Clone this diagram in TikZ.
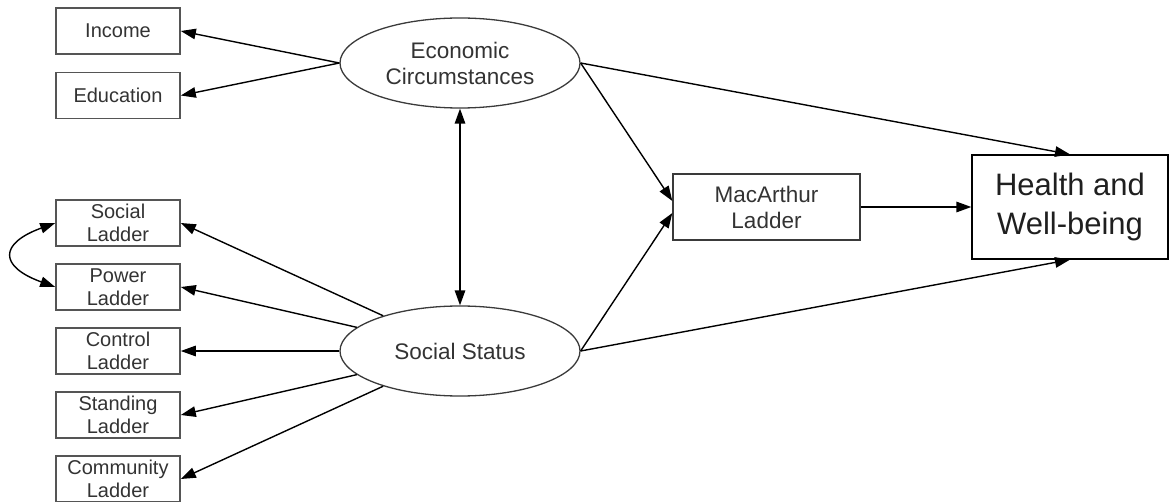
\documentclass[tikz,border=0pt]{standalone}
\usepackage{fontspec}
\setmainfont{Liberation Sans}
\usetikzlibrary{arrows.meta,shapes.geometric}
\definecolor{boxgray}{HTML}{555555}
\definecolor{ellgray}{HTML}{3A3A3A}
\definecolor{textgray}{HTML}{333333}
\begin{document}
\begin{tikzpicture}[x=1pt,y=-1pt,
  indicator/.style={draw=boxgray, line width=1.6pt, minimum width=124pt,
    minimum height=46pt, inner sep=0pt, text=textgray, align=center,
    font=\fontsize{20}{23}\selectfont},
  latent/.style={ellipse, draw=ellgray, line width=1.3pt, minimum width=240pt,
    minimum height=90pt, inner sep=0pt, text=textgray, align=center,
    font=\fontsize{22.5}{26}\selectfont},
  outcome/.style={draw=black, line width=1.3pt, inner sep=0pt, align=center},
  link/.style={line width=1.4pt, -{Triangle[length=15pt,width=10.5pt]}},
  twoway/.style={line width=1.4pt, {Triangle[length=15pt,width=10.5pt]}-{Triangle[length=15pt,width=10.5pt]}}]
\useasboundingbox (0,0) rectangle (1169,502);

% observed indicators
\node[indicator] (inc) at (118,31) {Income};
\node[indicator] (edu) at (118,95.5) {Education};
\node[indicator] (soclad) at (118,223) {Social\\Ladder};
\node[indicator] (powlad) at (118,287) {Power\\Ladder};
\node[indicator] (ctllad) at (118,351) {Control\\Ladder};
\node[indicator] (stdlad) at (118,415) {Standing\\Ladder};
\node[indicator] (comlad) at (118,479) {Community\\Ladder};

% latent factors
\node[latent] (eco) at (460,63) {Economic\\Circumstances};
\node[latent] (soc) at (460,351) {Social Status};

% mediator and outcome
\node[outcome, draw=ellgray, text=textgray, minimum width=187pt, minimum height=66pt,
  font=\fontsize{22.5}{26}\selectfont] (mac) at (766.5,207) {MacArthur\\Ladder};
\node[outcome, text=black!88, minimum width=196pt, minimum height=104pt,
  font=\fontsize{31}{39}\selectfont] (hwb) at (1070,207) {Health and\\Well-being};

% loadings
\draw[link] (eco.west) -- (inc.east);
\draw[link] (eco.west) -- (edu.east);
\draw[link] (soc) -- (soclad.east);
\draw[link] (soc) -- (powlad.east);
\draw[link] (soc.west) -- (ctllad.east);
\draw[link] (soc) -- (stdlad.east);
\draw[link] (soc) -- (comlad.east);

% covariances
\draw[twoway] (eco.south) -- (soc.north);
\draw[twoway] (soclad.west) to[out=200,in=160,looseness=2.4] (powlad.west);

% structural paths
\draw[link] (eco.east) -- ([yshift=6pt]mac.west);
\draw[link] (soc.east) -- ([yshift=-6pt]mac.west);
\draw[link] (eco.east) -- (hwb.north);
\draw[link] (soc.east) -- (hwb.south);
\draw[link] (mac.east) -- (hwb.west);
\end{tikzpicture}
\end{document}
